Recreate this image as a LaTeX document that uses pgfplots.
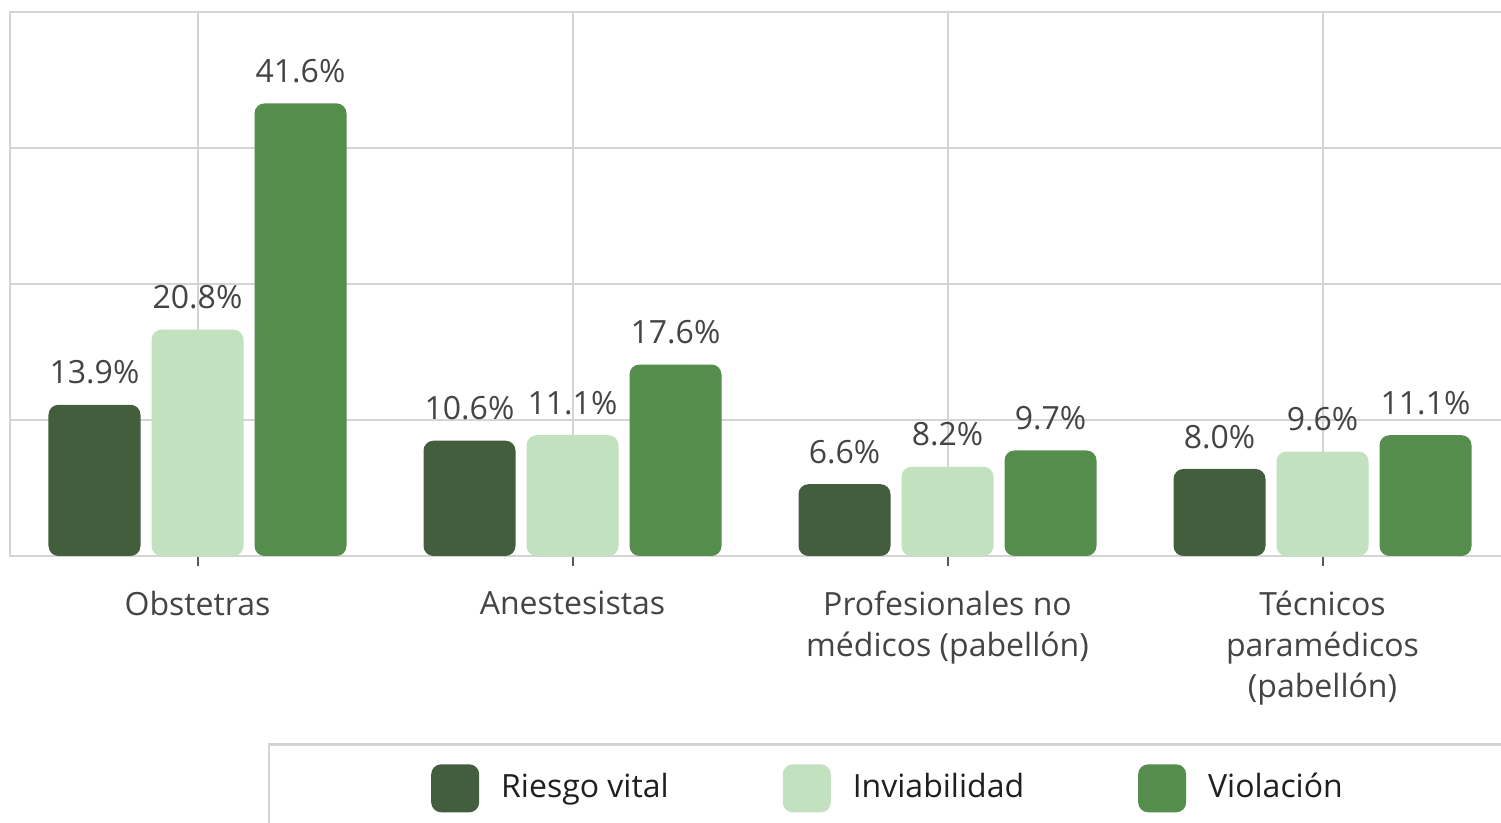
\documentclass[border=0pt]{standalone}
\usepackage{pgfplots}
\pgfplotsset{compat=1.18}
\usepackage{fontspec}
\setmainfont{Open Sans}
\definecolor{c1}{HTML}{435E3C}
\definecolor{c2}{HTML}{C2E1BE}
\definecolor{c3}{HTML}{558D4C}
\definecolor{gridc}{HTML}{D4D4D4}
\definecolor{txt}{HTML}{444444}
\pgfplotsset{leg/.style={legend image code/.code={\fill[##1] (0pt,-7.5pt) rectangle (24pt,16.5pt);}}}
\begin{document}
\begin{tikzpicture}
\path[use as bounding box, clip] (0,0) rectangle (750.5pt,411.5pt);
\begin{axis}[
  at={(5pt,133.5pt)}, anchor=south west,
  scale only axis, width=750pt, height=272pt,
  xmin=-0.5, xmax=3.5, ymin=0, ymax=50,
  ybar=5.5pt, bar width=46pt,
  xtick={0,1,2,3},
  xticklabels={Obstetras, Anestesistas, {Profesionales no\\médicos (pabellón)}, {Técnicos\\paramédicos\\(pabellón)}},
  xticklabel style={align=center, font=\fontsize{16}{20.5}\selectfont, text=txt, inner sep=0pt, yshift=-12.5pt},
  ytick={0,12.5,25,37.5,50}, yticklabels={}, ytick style={draw=none},
  xtick pos=left, xtick align=outside, major tick length=5pt,
  xtick style={color=gray!70!black, line width=1pt},
  grid=major, grid style={gridc, line width=1pt},
  axis line style={gridc, line width=1.2pt},
  /pgf/number format/assume math mode=true,
  nodes near coords={\pgfmathprintnumber[fixed,fixed zerofill,precision=1]{\pgfplotspointmeta}\%},
  every node near coord/.append style={font=\fontsize{16}{19}\selectfont, text=txt, anchor=south, inner sep=0pt, yshift=10pt},
  legend columns=3,
  legend cell align=left,
  legend style={at={(0.172,-0.344)}, anchor=north west, draw=gridc, line width=1.2pt,
    inner xsep=81pt, inner ysep=10pt, font=\fontsize{16}{19}\selectfont, text=black!88,
    nodes={inner sep=0pt, text depth=0pt},
    cells={anchor=base west},
    /tikz/every odd column/.append style={column sep=11pt},
    /tikz/every even column/.append style={column sep=57pt}},
]
\addplot[fill=c1, draw=none, rounded corners=5pt, leg] coordinates {(0,13.9) (1,10.6) (2,6.6) (3,8.0)};
\addplot[fill=c2, draw=none, rounded corners=5pt, leg] coordinates {(0,20.8) (1,11.1) (2,8.2) (3,9.6)};
\addplot[fill=c3, draw=none, rounded corners=5pt, leg] coordinates {(0,41.6) (1,17.6) (2,9.7) (3,11.1)};
\addlegendentry{Riesgo vital}
\addlegendentry{Inviabilidad}
\addlegendentry{Violación\hspace*{30pt}}
\end{axis}
\end{tikzpicture}
\end{document}
